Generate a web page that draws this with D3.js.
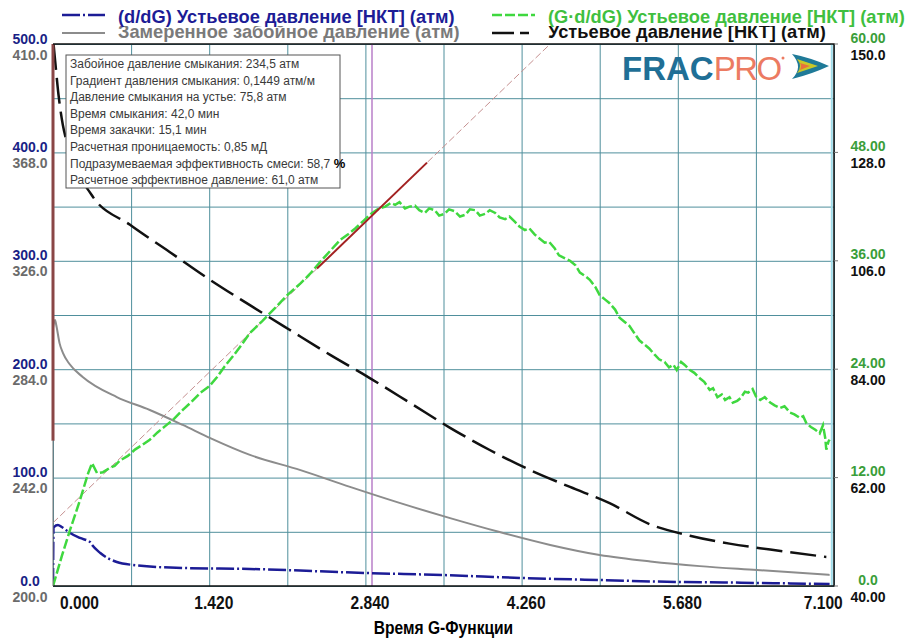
<!DOCTYPE html>
<html>
<head>
<meta charset="utf-8">
<script src="https://cdn.jsdelivr.net/npm/d3@7"></script>
<style>
  body { margin: 0; background: #fff; }
  svg { font-family: "Liberation Sans", Arial, sans-serif; }
</style>
</head>
<body>
<div id="chart"></div>
<script>
const width = 907;
const height = 641;
const margin = { top: 44, right: 73, bottom: 55, left: 53 };
const graphWidth = width - margin.left - margin.right;
const graphHeight = height - margin.top - margin.bottom;

// axis labels
const gTicks = [0, 1.42, 2.84, 4.26, 5.68, 7.1];
const blueTicks = [0, 100, 200, 300, 400, 500];
const greyTicks = [200, 242, 284, 326, 368, 410];
const greenTicks = [0, 12, 24, 36, 48, 60];
const blackTicks = [40, 62, 84, 106, 128, 150];

// (d/dG) wellhead pressure
const dpdgG = [0, 0.005, 0.045, 0.08, 0.155, 0.245, 0.336, 0.355, 0.43, 0.58, 0.73, 1.18, 1.79, 2.84, 3.55, 4.26, 4.97, 5.68, 6.1, 6.39, 6.7, 7.06];
const dpdgVal = [0, 54, 56.3, 54.4, 48.9, 44.3, 40.6, 37.8, 30.4, 22.1, 19.4, 16.6, 15.7, 12, 10.1, 7.4, 5.5, 3.7, 3.3, 2.8, 2.4, 1.8];

// measured bottomhole pressure
const bhpG = [0, 0.018, 0.03, 0.06, 0.09, 0.15, 0.27, 0.58, 0.88, 1.18, 1.43, 1.79, 2.25, 2.7, 3.15, 3.61, 4.06, 4.52, 4.97, 5.43, 5.88, 6.4, 7.06];
const bhpVal = [300, 303.1, 301, 294, 290.3, 286, 281, 273.2, 268.2, 262.4, 257.3, 250.8, 244.9, 238.4, 232.2, 226.3, 220.9, 215.9, 212, 209.5, 207.7, 206.2, 204.3];

// (G*d/dG) wellhead pressure
const gdpG = [0, 0.08, 0.155, 0.245, 0.32, 0.355, 0.4, 0.455, 0.52, 0.56, 0.61, 0.68, 0.745, 0.81, 0.88, 0.95, 1.02, 1.1, 1.18, 1.26, 1.34, 1.42, 1.49, 1.56, 1.64, 1.72, 1.79, 1.9, 2.02, 2.13, 2.25, 2.34, 2.43, 2.52, 2.61, 2.68, 2.75, 2.82, 2.88, 2.95, 3.02, 3.07, 3.11, 3.15, 3.2, 3.24, 3.29, 3.33, 3.38, 3.42, 3.47, 3.51, 3.56, 3.6, 3.65, 3.7, 3.75, 3.79, 3.84, 3.88, 3.93, 3.97, 4.02, 4.06, 4.11, 4.15, 4.2, 4.24, 4.29, 4.33, 4.38, 4.42, 4.47, 4.51, 4.56, 4.6, 4.65, 4.7, 4.75, 4.79, 4.84, 4.88, 4.93, 4.97, 5.02, 5.06, 5.11, 5.15, 5.2, 5.24, 5.29, 5.33, 5.38, 5.42, 5.47, 5.51, 5.56, 5.6, 5.64, 5.67, 5.71, 5.74, 5.79, 5.83, 5.88, 5.92, 5.97, 6.0, 6.04, 6.08, 6.11, 6.15, 6.18, 6.22, 6.25, 6.29, 6.32, 6.36, 6.39, 6.43, 6.47, 6.52, 6.56, 6.61, 6.65, 6.7, 6.74, 6.79, 6.82, 6.85, 6.89, 6.93, 6.97, 7.0, 7.02, 7.03, 7.05, 7.06];
const gdpVal = [0, 3.3, 6.2, 9.5, 12.5, 13.6, 12.5, 12.6, 13.1, 13.3, 13.9, 14.4, 15.1, 15.6, 16.2, 17.0, 17.7, 18.5, 19.5, 20.4, 21.4, 22.1, 23.1, 24.3, 25.5, 26.8, 28, 29.3, 30.8, 32.2, 33.5, 34.6, 35.9, 37.1, 38.3, 38.9, 39.6, 40.4, 41.1, 41.7, 42.0, 42.4, 42.2, 42.5, 41.8, 42.0, 42.1, 41.6, 41.3, 41.8, 41.6, 41.0, 41.2, 41.7, 41.5, 40.9, 41.1, 41.7, 41.6, 41.0, 41.2, 41.6, 41.3, 40.8, 40.6, 40.9, 40.3, 39.8, 39.4, 39.6, 38.9, 38.5, 38.0, 38.1, 37.4, 36.6, 36.3, 36.0, 35.5, 34.7, 34.3, 33.9, 33.1, 32.2, 31.7, 31.3, 30.6, 29.7, 29.2, 28.8, 27.9, 27.2, 26.7, 26.3, 25.6, 25.1, 24.8, 24.2, 24.5, 23.9, 24.8, 24.5, 23.9, 23.6, 23.0, 22.6, 21.7, 21.9, 20.9, 21.2, 20.6, 20.9, 20.3, 20.5, 20.8, 21.5, 21.4, 21.8, 21.0, 20.6, 20.9, 20.3, 20.0, 19.7, 19.9, 19.2, 19.0, 18.6, 18.8, 18.0, 17.6, 17.3, 16.9, 17.8, 16.4, 15.1, 16.0, 16.2];

// wellhead pressure
const whpG = [0.005, 0.02, 0.05, 0.09, 0.12, 0.35, 0.7, 1.06, 1.43, 1.79, 2.15, 2.52, 2.88, 3.25, 3.61, 3.97, 4.34, 4.7, 5.06, 5.43, 5.79, 6.15, 6.52, 7.03];
const whpVal = [150, 146.5, 139.7, 133.5, 130.5, 119.4, 113.3, 107.8, 102.1, 97, 92, 86.9, 82.2, 77.1, 72.1, 67.6, 63.5, 60.1, 56.8, 52.5, 50.2, 48.6, 47.4, 45.9];

// closure tangent line (G*d/dG units) and markers
const tangentG = [0, 4.52];
const tangentVal = [7, 60];
const tangentFitG = [2.4, 3.4];
const closureG = 2.9;
const dataEndG = 7.08;
const shutInTop = 500;
const shutInBottom = 134;

const infoLines = [
    "Забойное давление смыкания: 234,5 атм",
    "Градиент давления смыкания: 0,1449 атм/м",
    "Давление смыкания на устье: 75,8 атм",
    "Время смыкания: 42,0 мин",
    "Время закачки: 15,1 мин",
    "Расчетная проницаемость: 0,85 мД",
    "Подразумеваемая эффективность смеси: 58,7 ",
    "Расчетное эффективное давление: 61,0 атм"
];

const zip = (gs, vs) => gs.map((g, i) => ({ g: g, v: vs[i] }));

const svg = d3.select('#chart')
    .append('svg')
    .attr('width', width)
    .attr('height', height);

const graph = svg.append('g')
    .attr('transform', `translate(${margin.left}, ${margin.top})`);

const x = d3.scaleLinear().domain([0, 7.1]).range([0, graphWidth]);
const yBlue = d3.scaleLinear().domain([0, 500]).range([graphHeight, 0]);
const yGrey = d3.scaleLinear().domain([200, 410]).range([graphHeight, 0]);
const yGreen = d3.scaleLinear().domain([0, 60]).range([graphHeight, 0]);
const yBlack = d3.scaleLinear().domain([40, 150]).range([graphHeight, 0]);

svg.append('defs').append('clipPath').attr('id', 'plotClip')
    .append('rect').attr('width', graphWidth).attr('height', graphHeight);

// grid
const gridColor = '#4f8f9c';
const hGrid = graph.append('g')
    .call(d3.axisLeft(yBlue).tickValues(d3.range(0, 501, 50)).tickSize(-graphWidth).tickFormat(''));
const vGrid = graph.append('g')
    .attr('transform', `translate(0, ${graphHeight})`)
    .call(d3.axisBottom(x).tickValues(d3.range(11).map(i => i * 0.71)).tickSize(graphHeight).tickFormat(''));
vGrid.selectAll('line').attr('y2', -graphHeight);
[hGrid, vGrid].forEach(g => {
    g.select('.domain').remove();
    g.selectAll('line').attr('stroke', gridColor).attr('stroke-width', 1);
});

// markers
const marks = graph.append('g').attr('clip-path', 'url(#plotClip)');
marks.append('line')
    .attr('x1', x(dataEndG)).attr('x2', x(dataEndG))
    .attr('y1', 0).attr('y2', graphHeight)
    .attr('stroke', '#9fdcea').attr('stroke-width', 2);
marks.append('line')
    .attr('x1', x(closureG)).attr('x2', x(closureG))
    .attr('y1', 0).attr('y2', graphHeight)
    .attr('stroke', '#b87fc8').attr('stroke-width', 1.5);

const line = (yScale, curve) => d3.line().curve(curve || d3.curveLinear).x(d => x(d.g)).y(d => yScale(d.v));

const series = graph.append('g').attr('clip-path', 'url(#plotClip)');

series.append('path')
    .datum(zip(tangentG, tangentVal))
    .attr('d', line(yGreen))
    .attr('fill', 'none').attr('stroke', '#c59090').attr('stroke-width', 1)
    .attr('stroke-dasharray', '7,3');

series.append('path')
    .datum(zip(bhpG, bhpVal))
    .attr('d', line(yGrey, d3.curveMonotoneX))
    .attr('fill', 'none').attr('stroke', '#8c8c8c').attr('stroke-width', 2);

series.append('path')
    .datum(zip(whpG, whpVal))
    .attr('d', line(yBlack, d3.curveMonotoneX))
    .attr('fill', 'none').attr('stroke', '#111').attr('stroke-width', 2.5)
    .attr('stroke-dasharray', '26,8');

series.append('path')
    .datum(zip(dpdgG, dpdgVal))
    .attr('d', line(yBlue, d3.curveMonotoneX))
    .attr('fill', 'none').attr('stroke', '#1c1c96').attr('stroke-width', 2.5)
    .attr('stroke-dasharray', '18,3,2,3');

series.append('path')
    .datum(zip(gdpG, gdpVal))
    .attr('d', line(yGreen))
    .attr('fill', 'none').attr('stroke', '#3fd83f').attr('stroke-width', 2.5)
    .attr('stroke-dasharray', '10,3');

series.append('path')
    .datum(zip(tangentFitG, tangentFitG.map(g => tangentVal[0] + (tangentVal[1] - tangentVal[0]) * g / tangentG[1])))
    .attr('d', line(yGreen))
    .attr('fill', 'none').attr('stroke', '#a32222').attr('stroke-width', 2);

// shut-in marker on left edge
graph.append('line')
    .attr('x1', 0).attr('x2', 0)
    .attr('y1', yBlue(shutInTop)).attr('y2', yBlue(shutInBottom))
    .attr('stroke', '#8a4646').attr('stroke-width', 3);

// frame
graph.append('path')
    .attr('d', `M0,0 H${graphWidth} V${graphHeight} H0`)
    .attr('fill', 'none').attr('stroke', '#111').attr('stroke-width', 1.5);
graph.append('line')
    .attr('x1', 0).attr('x2', 0).attr('y1', yBlue(shutInBottom)).attr('y2', graphHeight)
    .attr('stroke', '#777').attr('stroke-width', 1);

// axes labels
const styleAxis = (g, color, dx, dy, anchor) => {
    g.select('.domain').remove();
    g.selectAll('line').remove();
    g.selectAll('text')
        .attr('x', dx).attr('y', 0).attr('dy', dy)
        .attr('text-anchor', anchor)
        .attr('fill', color)
        .style('font-size', '14px')
        .style('font-weight', 'bold');
};

graph.append('g')
    .call(d3.axisLeft(yBlue).tickValues(blueTicks).tickFormat(d3.format('.1f')))
    .call(g => styleAxis(g, '#1a1f86', -23, -1, 'middle'));
graph.append('g')
    .call(d3.axisLeft(yGrey).tickValues(greyTicks).tickFormat(d3.format('.1f')))
    .call(g => styleAxis(g, '#6b6b6b', -23, 15, 'middle'));
graph.append('g')
    .attr('transform', `translate(${graphWidth}, 0)`)
    .call(d3.axisRight(yGreen).tickValues(greenTicks).tickFormat(d => d === 0 ? '0.0' : d3.format('.2f')(d)))
    .call(g => styleAxis(g, '#3a9e3a', 34, -2, 'middle'));
graph.append('g')
    .attr('transform', `translate(${graphWidth}, 0)`)
    .call(d3.axisRight(yBlack).tickValues(blackTicks).tickFormat(d => d >= 100 ? d3.format('.1f')(d) : d3.format('.2f')(d)))
    .call(g => styleAxis(g, '#111', 34, 15, 'middle'));

// small ticks outside right border
graph.append('g').selectAll('line')
    .data(greenTicks)
    .enter().append('line')
    .attr('x1', graphWidth).attr('x2', graphWidth + 4)
    .attr('y1', d => yGreen(d)).attr('y2', d => yGreen(d))
    .attr('stroke', '#777');

const xAxis = graph.append('g')
    .attr('transform', `translate(0, ${graphHeight})`)
    .call(d3.axisBottom(x).tickValues(gTicks).tickFormat(d3.format('.3f')));
xAxis.select('.domain').remove();
xAxis.selectAll('line').remove();
xAxis.selectAll('text')
    .attr('y', 23).attr('dy', 0)
    .attr('fill', '#111')
    .attr('text-anchor', (d, i) => i === 0 ? 'start' : (i === gTicks.length - 1 ? 'end' : 'middle'))
    .attr('x', (d, i) => i === 0 ? 8 : (i === gTicks.length - 1 ? 10 : 5))
    .attr('transform', 'scale(0.82, 1)')
    .style('font-size', '19px')
    .style('font-weight', 'bold');

graph.append('text')
    .attr('transform', `translate(${graphWidth / 2}, ${graphHeight + 48}) scale(0.82, 1)`)
    .attr('text-anchor', 'middle')
    .style('font-size', '19px')
    .style('font-weight', 'bold')
    .text('Время G-Функции');

// info box
const info = svg.append('g').attr('transform', 'translate(66, 55)');
info.append('rect')
    .attr('width', 274).attr('height', 133)
    .attr('fill', '#fff').attr('stroke', '#555').attr('stroke-width', 1);
const infoText = info.selectAll('text')
    .data(infoLines)
    .enter().append('text')
    .attr('x', 4)
    .attr('y', (d, i) => 13 + i * 16.6)
    .attr('fill', '#3a3a3a')
    .style('font-size', '12px')
    .text(d => d);
infoText.filter((d, i) => i === 6)
    .append('tspan')
    .style('font-weight', 'bold').style('font-size', '13px').attr('fill', '#000')
    .text('%');

// logo
const logo = svg.append('g');
logo.append('text')
    .attr('x', 622).attr('y', 80)
    .style('font-size', '33px')
    .style('font-weight', 'bold')
    .attr('fill', '#1f6f96')
    .text('FRAC')
    .append('tspan')
    .attr('fill', '#ec7b62')
    .style('font-weight', 'normal')
    .style('letter-spacing', '-1.5px')
    .text('PRO');
logo.append('circle').attr('cx', 783).attr('cy', 58).attr('r', 1.5).attr('fill', '#ec7b62');
logo.append('path').attr('d', 'M792,54 Q812,58 829,66 Q812,74 792,79 Q804,67 792,54 Z').attr('fill', '#1f7a98');
logo.append('path').attr('d', 'M797,59 L818,66 L797,73 Q803,66 797,59 Z').attr('fill', '#c9c828');
logo.append('path').attr('d', 'M800,63 L810,66 L800,70 Q802,66 800,63 Z').attr('fill', '#e8703c');

// legend
const legendItems = [
    { x: 62, lineY: 33, textY: 38, color: '#8c8c8c', textColor: '#7a7a7a', dash: null, width: 2, label: 'Замеренное забойное давление (атм)' },
    { x: 492, lineY: 33, textY: 38, color: '#111', textColor: '#111', dash: '22,6,9,6', width: 2.5, label: 'Устьевое давление [НКТ] (атм)' },
    { x: 62, lineY: 15, textY: 23, color: '#1c1c96', textColor: '#1c1c96', dash: '18,3,2,3', width: 2.5, label: '(d/dG) Устьевое давление [НКТ] (атм)' },
    { x: 492, lineY: 15, textY: 23, color: '#3fd83f', textColor: '#3fbf3f', dash: '10,3', width: 2.5, label: '(G·d/dG) Устьевое давление [НКТ] (атм)' }
];

// fit the legend font so the blue label spans 118..455 like the reference
const probe = svg.append('text').style('font-size', '20px').style('font-weight', 'bold').text(legendItems[2].label);
const legendFontSize = 20 * 337 / probe.node().getComputedTextLength();
probe.remove();

const legendG = svg.append('g');
legendItems.forEach((d, i) => {
    const item = legendG.append('g').attr('transform', `translate(${d.x}, 0)`);
    if (i >= 2) {
        item.append('rect')
            .attr('x', 50).attr('y', 0).attr('width', 360).attr('height', 26)
            .attr('fill', '#fff');
    }
    item.append('line')
        .attr('x1', 0).attr('x2', 43)
        .attr('y1', d.lineY).attr('y2', d.lineY)
        .attr('stroke', d.color)
        .attr('stroke-width', d.width)
        .attr('stroke-dasharray', d.dash);
    item.append('text')
        .attr('x', 56).attr('y', d.textY)
        .attr('fill', d.textColor)
        .style('font-size', legendFontSize + 'px')
        .style('font-weight', 'bold')
        .text(d.label);
});
</script>
</body>
</html>
